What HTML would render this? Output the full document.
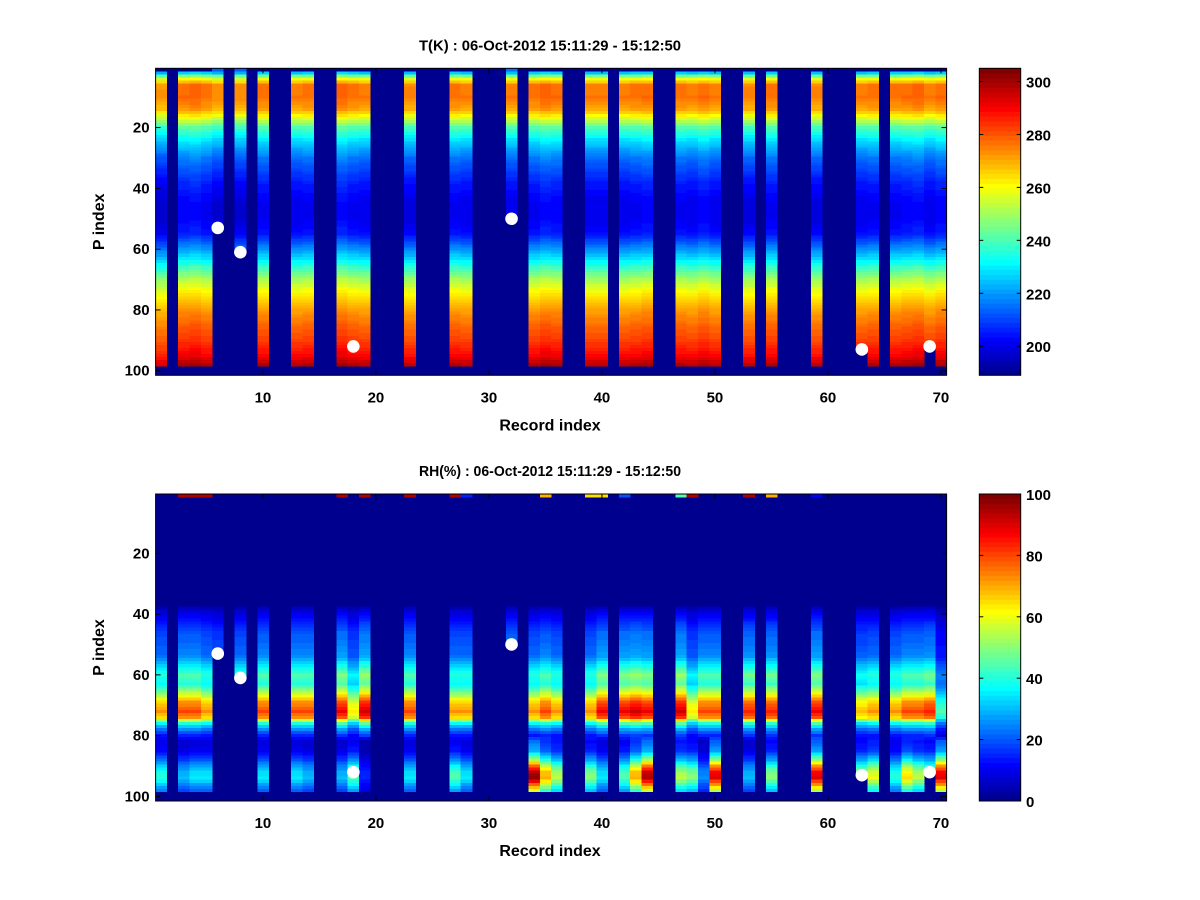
<!DOCTYPE html>
<html><head><meta charset="utf-8"><style>
html,body{margin:0;padding:0;background:#fff;}
svg{display:block;font-family:"Liberation Sans",Arial,sans-serif;}
text{font-weight:bold;fill:#000;}
</style></head><body>
<svg id="fig" width="1200" height="900" viewBox="0 0 1200 900">
<rect width="1200" height="900" fill="#fff"/>
<g id="top"></g>
<g id="bot"></g>
</svg>
<script>
// ---- data ----
const records = [];
for (let r = 1; r <= 70; r++) records.push(r);
const validCols = [1,3,4,5,6,8,10,13,14,17,18,19,23,27,28,32,34,35,36,39,40,42,43,44,47,48,49,50,53,55,59,63,64,66,67,68,69,70];
const dotRec = [6,8,18,32,63,69];
const dotP = [53,61,92,50,93,92];
const partialRec = [6,8,32,63,69];
const partialEnd = [53,61,50,93,92];
const partialStart = [1,1,1,2,2];
// temperature profile (P index -> K)
const tRows = [1,2,3,4,6,10,14,17,20,25,30,38,45,50,55,60,65,70,75,80,85,90,95,98];
const tVals = [215,225,244,258,275,276,270,256,240,226,215,205,200,200,204,218,234,250,262,271,277,282,289,297];
const tOffset = [-3,0,2,3,1,-2,0,-2,0,1,2,0,0,1,0,2,3,1,0,-1,0,0,-1,0,0,2,1,0,-1,0,0,0,0,1,3,2,0,-2,0,0,0,0,1,2,0,0,1,0,2,0,0,0,-1,0,1,0,0,0,-1,0,0,0,0,1,0,1,2,3,0,2];
// relative humidity profile
const rhRows = [37,38,40,43,46,50,54,57,60,63,66,69,72,74,76,78,80,82,85,88,90,92,94,96,98];
const rhUpper = [0,5,10,15,20,22,25,35,45,40,55,72,80,72,40,25,15,0,0,0,0,0,0,0,0];
const rhLower = [0,0,0,0,0,0,0,0,0,0,0,0,0,0,0,0,0,12,15,28,40,48,50,40,30];
const rhMid = {1:0.9,3:1.0,4:1.0,5:0.9,6:0.8,8:0.9,10:1.0,13:1.0,14:1.0,17:1.1,18:0.8,19:1.15,23:1.0,27:0.9,28:0.9,32:1.0,34:0.9,35:1.0,36:0.9,39:0.9,40:1.1,42:1.1,43:1.15,44:1.1,47:1.15,48:0.8,49:1.0,50:1.0,53:1.05,55:1.05,59:1.1,63:0.85,64:0.9,66:0.9,67:1.0,68:1.0,69:1.05,70:0.55};
const rhBot = {1:0.8,3:0.6,4:0.7,5:0.7,10:0.7,13:0.7,14:0.6,17:0.6,18:0.9,19:0.3,23:0.7,27:0.9,28:0.7,34:1.95,35:1.4,36:1.1,39:1.0,40:0.7,42:0.9,43:1.4,44:1.9,47:1.1,48:1.0,49:0.5,50:1.8,53:0.6,55:1.0,59:1.8,63:1.0,64:1.2,66:0.8,67:1.3,68:1.1,69:1.0,70:1.8};
const rhTop = {3:95,4:95,5:95,17:95,19:95,23:95,27:95,28:15,35:70,39:65,40:65,42:20,47:45,48:95,53:95,55:70,59:12};
const tTicks = [200,220,240,260,280,300];
const rhTicks = [0,20,40,60,80,100];
const xTicks = [10,20,30,40,50,60,70];
const yTicks = [20,40,60,80,100];

// ---- helpers ----
const NS = 'http://www.w3.org/2000/svg';
function el(tag, attrs, parent){const e=document.createElementNS(NS,tag);for(const k in attrs)e.setAttribute(k,attrs[k]);parent.appendChild(e);return e;}
function interp(xs, ys, x){if(x<=xs[0])return ys[0];for(let i=1;i<xs.length;i++){if(x<=xs[i]){const t=(x-xs[i-1])/(xs[i]-xs[i-1]);return ys[i-1]+t*(ys[i]-ys[i-1]);}}return ys[ys.length-1];}
function jet(t){t=Math.max(0,Math.min(1,t));let i=Math.min(63,Math.floor(t*64));const q=(i+1)/64;const c=v=>Math.round(255*Math.max(0,Math.min(1,1.5-Math.abs(v))));return `rgb(${c(4*q-3)},${c(4*q-2)},${c(4*q-1)})`;}

const X0=155.6, X1=946.6, NR=101;
function xScale(v){return X0+(v-0.5)*(X1-X0)/70;}

function panel(g, Y0, Y1, title, cmin, cmax, valueFn, cTicks){
  const yScale=v=>Y0+(v-0.5)*(Y1-Y0)/NR;
  const dark=jet(0);
  const bg=el('rect',{x:X0,y:Y0,width:X1-X0,height:Y1-Y0,fill:dark},g);
  
  
  const cells=el('g',{'shape-rendering':'crispEdges'},g);
  
  
  validCols.forEach(r=>{
    const pi=partialRec.indexOf(r);
    const rs=pi>=0?partialStart[pi]:1, re=pi>=0?partialEnd[pi]:NR;
    for(let p=rs;p<=re;p++){
      const v=valueFn(r,p);
      if(v===null)continue;
      const t=(v-cmin)/(cmax-cmin);
      if(t<=1/64)continue;
      const x=xScale(r-0.5), y=yScale(p-0.5);
      const c=el('rect',{x:x.toFixed(2),y:y.toFixed(2),width:((X1-X0)/70+0.3).toFixed(2),height:((Y1-Y0)/NR+0.3).toFixed(2),fill:jet(t)},cells);
      
      
    }
  });
  dotRec.forEach((r,i)=>{
    const d=el('circle',{cx:xScale(r),cy:yScale(dotP[i]),r:6.3,fill:'#fff'},g);
    
    
  });
  const box=el('rect',{x:X0,y:Y0,width:X1-X0,height:Y1-Y0,fill:'none',stroke:'#000','stroke-width':1},g);
  
  
  xTicks.forEach(v=>{
    const x=xScale(v);
    el('line',{x1:x,x2:x,y1:Y1,y2:Y1-5,stroke:'#000'},g);
    el('line',{x1:x,x2:x,y1:Y0,y2:Y0+5,stroke:'#000'},g);
    const t=el('text',{x:x,y:Y1+27,'text-anchor':'middle','font-size':15},g);t.textContent=v;
    
    
  });
  yTicks.forEach(v=>{
    const y=yScale(v);
    el('line',{x1:X0,x2:X0+5,y1:y,y2:y,stroke:'#000'},g);
    el('line',{x1:X1,x2:X1-5,y1:y,y2:y,stroke:'#000'},g);
    const t=el('text',{x:X0-6,y:y+5,'text-anchor':'end','font-size':15},g);t.textContent=v;
    
    
  });
  const tt=el('text',{x:550,y:Y0-18,'text-anchor':'middle','font-size':14.5,textLength:262,lengthAdjust:'spacingAndGlyphs'},g);tt.textContent=title;
  
  
  const xl=el('text',{x:550,y:Y1+55,'text-anchor':'middle','font-size':16},g);xl.textContent='Record index';
  
  
  const yl=el('text',{x:0,y:0,'text-anchor':'middle','font-size':16,transform:`translate(104,${(Y0+Y1)/2}) rotate(-90)`},g);yl.textContent='P index';
  
  
  // colorbar
  const CX0=979.3, CX1=1020.7;
  const cb=el('g',{'shape-rendering':'crispEdges'},g);
  
  
  const hh=(Y1-Y0)/64;
  for(let i=0;i<64;i++){
    el('rect',{x:CX0,y:(Y1-(i+1)*hh).toFixed(2),width:CX1-CX0,height:(hh+0.4).toFixed(2),fill:jet((i+0.5)/64)},cb);
  }
  el('rect',{x:CX0,y:Y0,width:CX1-CX0,height:Y1-Y0,fill:'none',stroke:'#000'},g);
  cTicks.forEach(v=>{
    const y=Y1-(v-cmin)/(cmax-cmin)*(Y1-Y0);
    el('line',{x1:CX0,x2:CX0+4,y1:y,y2:y,stroke:'#000'},g);
    el('line',{x1:CX1,x2:CX1-4,y1:y,y2:y,stroke:'#000'},g);
    const t=el('text',{x:1026,y:y+6,'font-size':15},g);t.textContent=v;
    
    
  });
}

function tValue(r,p){
  if(p>98)return null;
  if(p<2 && partialRec.indexOf(r)<0)return null;
  return interp(tRows,tVals,p)+tOffset[r-1];
}
function rhValue(r,p){
  if(p>98)return null;
  if(p===1)return rhTop[r]||0;
  if(p<37)return 0;
  const m=rhMid[r]||1, b=rhBot[r]||0.7;
  return Math.min(100,interp(rhRows,rhUpper,p)*m+interp(rhRows,rhLower,p)*b);
}
panel(document.getElementById('top'),68.3,375.3,'T(K) : 06-Oct-2012 15:11:29 - 15:12:50',189,305,tValue,tTicks);
panel(document.getElementById('bot'),494,801,'RH(%) : 06-Oct-2012 15:11:29 - 15:12:50',0,100,rhValue,rhTicks);
</script>
</body></html>
